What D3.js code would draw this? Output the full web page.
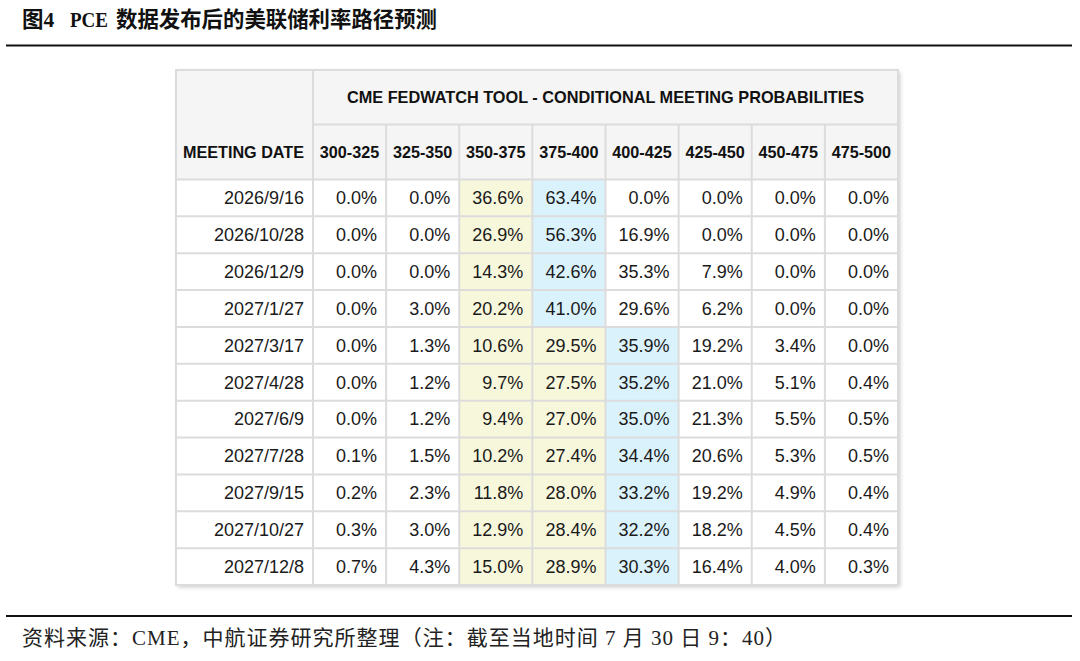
<!DOCTYPE html>
<html><head><meta charset="utf-8">
<script src="https://cdn.jsdelivr.net/npm/d3@7"></script>
<style>html,body{margin:0;padding:0;background:#fff;}svg{display:block;}</style>
</head><body>
<div id="chart"></div>
<script>
const titleParts = ["图4", "PCE", "数据发布后的美联储利率路径预测"];
const sourceText = "资料来源：CME，中航证券研究所整理（注：截至当地时间 7 月 30 日 9：40）";
const tableTitle = "CME FEDWATCH TOOL - CONDITIONAL MEETING PROBABILITIES";
const dateHeader = "MEETING DATE";
const rates = ["300-325","325-350","350-375","375-400","400-425","425-450","450-475","475-500"];
const dates = ["2026/9/16","2026/10/28","2026/12/9","2027/1/27","2027/3/17","2027/4/28","2027/6/9","2027/7/28","2027/9/15","2027/10/27","2027/12/8"];
const probs = [
  [0.0,0.0,36.6,63.4,0.0,0.0,0.0,0.0],
  [0.0,0.0,26.9,56.3,16.9,0.0,0.0,0.0],
  [0.0,0.0,14.3,42.6,35.3,7.9,0.0,0.0],
  [0.0,3.0,20.2,41.0,29.6,6.2,0.0,0.0],
  [0.0,1.3,10.6,29.5,35.9,19.2,3.4,0.0],
  [0.0,1.2,9.7,27.5,35.2,21.0,5.1,0.4],
  [0.0,1.2,9.4,27.0,35.0,21.3,5.5,0.5],
  [0.1,1.5,10.2,27.4,34.4,20.6,5.3,0.5],
  [0.2,2.3,11.8,28.0,33.2,19.2,4.9,0.4],
  [0.3,3.0,12.9,28.4,32.2,18.2,4.5,0.4],
  [0.7,4.3,15.0,28.9,30.3,16.4,4.0,0.3]
];
const currentRange = "350-375";

const W = 1080, H = 661;
const svg = d3.select("#chart").append("svg").attr("width", W).attr("height", H);

const defs = svg.append("defs");
const f = defs.append("filter").attr("id","sh").attr("x","-5%").attr("y","-5%").attr("width","110%").attr("height","110%");
f.append("feDropShadow").attr("dx",2).attr("dy",2).attr("stdDeviation",2).attr("flood-color","#000").attr("flood-opacity",0.22);

// title & rules
const serif = "'Liberation Serif','DejaVu Serif','Noto Sans CJK SC',serif";
const titleX = [22, 70, 116];
const titleLen = [null, 38, 321];
titleParts.forEach((t,i)=>{
  const el = svg.append("text").attr("x", titleX[i]).attr("y", 27).attr("font-family", serif)
    .attr("font-weight", "bold").attr("font-size", 21.5).attr("fill", "#111").text(t);
  if (titleLen[i]) el.attr("textLength", titleLen[i]).attr("lengthAdjust","spacingAndGlyphs");
});
svg.append("line").attr("x1",6).attr("x2",1072).attr("y1",45.5).attr("y2",45.5).attr("stroke","#111").attr("stroke-width",2);
svg.append("line").attr("x1",6).attr("x2",1072).attr("y1",616).attr("y2",616).attr("stroke","#111").attr("stroke-width",2);
svg.append("text").attr("x", 22).attr("y", 645).attr("font-family", serif)
  .attr("font-size", 21).attr("fill", "#222").attr("textLength", 764).attr("lengthAdjust","spacing").text(sourceText);

// table geometry
const tLeft = 176, tRight = 898, tTop = 70, h1 = 124.5, h2 = 179.5, tBottom = 585;
const colSplit = 313;
const x = d3.scaleBand().domain(rates).range([colSplit, tRight]);
const y = d3.scaleBand().domain(dates).range([h2, tBottom]);
const sans = "'Liberation Sans',Arial,Helvetica,sans-serif";
const grid = "#dcdcdc";

const g = svg.append("g");
g.append("rect").attr("x",tLeft).attr("y",tTop).attr("width",tRight-tLeft).attr("height",tBottom-tTop)
  .attr("fill","#fff").attr("filter","url(#sh)");
g.append("rect").attr("x",tLeft).attr("y",tTop).attr("width",tRight-tLeft).attr("height",h2-tTop).attr("fill","#f5f5f5");

// data cell backgrounds
const cells = [];
dates.forEach((d,i)=>{
  const row = probs[i];
  const maxIdx = row.indexOf(d3.max(row));
  const curIdx = rates.indexOf(currentRange);
  row.forEach((v,j)=>{
    let fill = "#fff";
    if (j === maxIdx) fill = "#daf2fc";
    else if (j >= curIdx && j < maxIdx) fill = "#f7f7dc";
    cells.push({date:d, rate:rates[j], v, fill});
  });
});
g.selectAll("rect.cell").data(cells).join("rect").attr("class","cell")
  .attr("x", d=>x(d.rate)).attr("y", d=>y(d.date)).attr("width", x.bandwidth()).attr("height", y.bandwidth())
  .attr("fill", d=>d.fill);

// grid lines
const gl = g.append("g").attr("stroke", grid).attr("stroke-width", 2);
gl.append("line").attr("x1",colSplit).attr("x2",tRight).attr("y1",h1).attr("y2",h1);
gl.append("line").attr("x1",tLeft).attr("x2",tRight).attr("y1",h2).attr("y2",h2);
dates.forEach(d=>{ gl.append("line").attr("x1",tLeft).attr("x2",tRight).attr("y1",y(d)+y.bandwidth()).attr("y2",y(d)+y.bandwidth()); });
gl.append("line").attr("x1",colSplit).attr("x2",colSplit).attr("y1",tTop).attr("y2",tBottom);
rates.slice(1).forEach(r=>{ gl.append("line").attr("x1",x(r)).attr("x2",x(r)).attr("y1",h1).attr("y2",tBottom); });
gl.append("rect").attr("x",tLeft).attr("y",tTop).attr("width",tRight-tLeft).attr("height",tBottom-tTop).attr("fill","none");

// header texts
g.append("text").attr("x",(colSplit+tRight)/2).attr("y",(tTop+h1)/2).attr("dy","0.35em")
  .attr("text-anchor","middle").attr("font-family",sans).attr("font-weight","bold").attr("font-size",16.3)
  .attr("fill","#111").text(tableTitle);
g.append("text").attr("x",(tLeft+colSplit)/2 - 1).attr("y",(h1+h2)/2).attr("dy","0.35em")
  .attr("text-anchor","middle").attr("font-family",sans).attr("font-weight","bold").attr("font-size",16.2)
  .attr("fill","#111").text(dateHeader);
g.selectAll("text.rh").data(rates).join("text").attr("class","rh")
  .attr("x", d=>x(d)+x.bandwidth()/2).attr("y",(h1+h2)/2).attr("dy","0.35em")
  .attr("text-anchor","middle").attr("font-family",sans).attr("font-weight","bold").attr("font-size",16.2)
  .attr("fill","#111").text(d=>d);

// body texts
g.selectAll("text.dt").data(dates).join("text").attr("class","dt")
  .attr("x", colSplit-9).attr("y", d=>y(d)+y.bandwidth()/2).attr("dy","0.35em")
  .attr("text-anchor","end").attr("font-family",sans).attr("font-size",18).attr("fill","#1a1a1a").text(d=>d);
g.selectAll("text.cv").data(cells).join("text").attr("class","cv")
  .attr("x", d=>x(d.rate)+x.bandwidth()-9).attr("y", d=>y(d.date)+y.bandwidth()/2).attr("dy","0.35em")
  .attr("text-anchor","end").attr("font-family",sans).attr("font-size",18).attr("fill","#1a1a1a")
  .text(d=>d.v.toFixed(1)+"%");
</script>
</body></html>
